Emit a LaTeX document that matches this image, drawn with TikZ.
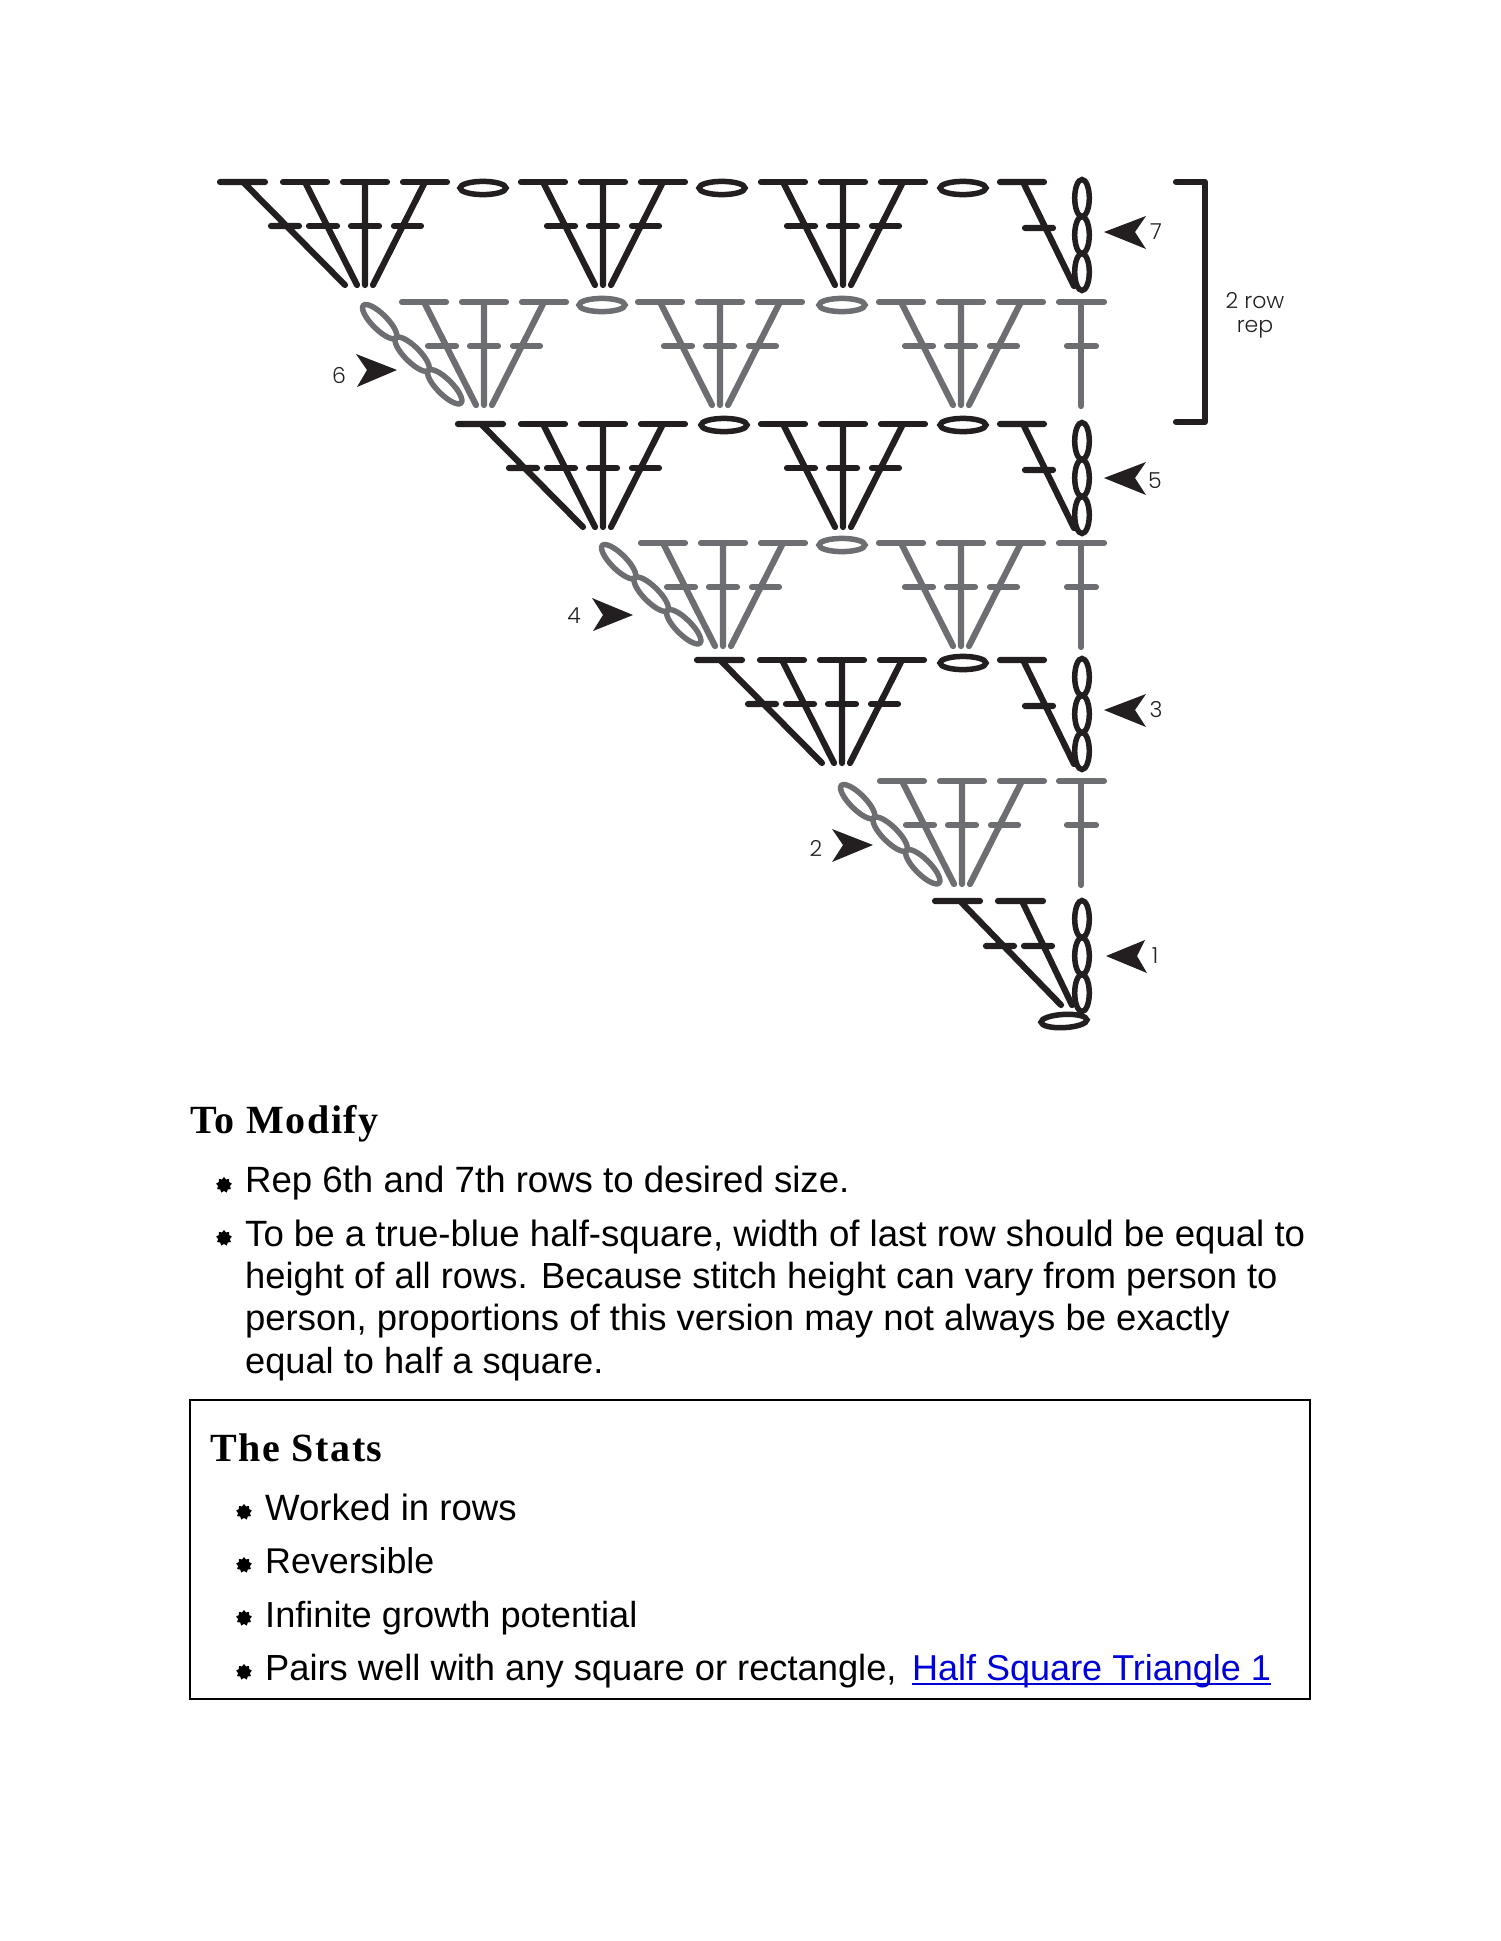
\documentclass[tikz,border=0pt]{standalone}
\usepackage{fontspec}
\usepackage{xcolor}
\usetikzlibrary{shapes.geometric}
\setmainfont{Liberation Sans}
\newfontfamily\headfont[LetterSpace=4]{Liberation Serif}
\newfontfamily\labfont{Poppins Light}
\definecolor{ink}{HTML}{231F20}
\definecolor{greyst}{HTML}{6D6E71}
\definecolor{linkblue}{HTML}{0000D8}
\newcommand{\fsz}[1]{\fontsize{#1}{42}\selectfont}
\tikzset{
  stitch/.style={line width=6.2pt,line cap=round,line join=round},
  ring/.style={line width=5.5pt,fill=none},
  bodytext/.style={inner sep=0pt,anchor=base west,font=\fontsize{36.6}{42}\selectfont,text=black},
  headtext/.style={inner sep=0pt,anchor=base west,font=\headfont\bfseries\fontsize{40}{46}\selectfont,text=black},
  labeltext/.style={inner sep=0pt,font=\labfont\fontsize{22}{24}\selectfont,text=ink},
  bulletmark/.style={star,star points=9,star point ratio=1.35,fill=black,minimum size=16pt,inner sep=0pt},
  arrowmark/.style={fill=ink,draw=none}
}
% three-leg cluster: centre x, top y, colour
\newcommand{\tripleleg}[3]{%
  \begin{scope}[shift={(#1,#2)}]
    \draw[stitch,#3] (-82,0)--(-38,0) (-22,0)--(22,0) (38,0)--(82,0);
    \draw[stitch,#3] (-56,44)--(-28,44) (-14,44)--(14,44) (29,44)--(56,44);
    \draw[stitch,#3] (-60,0)--(-8,103) (0,0)--(0,103) (60,0)--(8,103);
  \end{scope}}
% four-leg cluster
\newcommand{\quadleg}[3]{%
  \tripleleg{#1}{#2}{#3}%
  \begin{scope}[shift={(#1,#2)}]
    \draw[stitch,#3] (-145,0)--(-100,0) (-94,44)--(-66,44) (-122,0)--(-20,103);
  \end{scope}}
% single treble beside the chain
\newcommand{\singleleg}[1]{%
  \draw[stitch,ink] (1000,#1)--(1044,#1) (1025,#1+46)--(1053,#1+46) (1023,#1)--(1074,#1+104);}
% grey treble at right
\newcommand{\greyT}[1]{%
  \draw[stitch,greyst] (1059,#1)--(1104,#1) (1067,#1+44)--(1096,#1+44) (1081,#1)--(1081,#1+104);}
% vertical chain of three
\newcommand{\vchain}[1]{%
  \draw[ring,ink] (1082,#1+21) ellipse[x radius=7.3,y radius=18.5];
  \draw[ring,ink] (1082,#1+58) ellipse[x radius=7.3,y radius=18.5];
  \draw[ring,ink] (1082,#1+95) ellipse[x radius=7.3,y radius=18.5];}
% diagonal grey chain of three, from top-left start
\newcommand{\dchain}[2]{%
  \begin{scope}[shift={(#1,#2)},rotate=-45]
    \draw[ring,greyst] (25,0) ellipse[x radius=23,y radius=7.6];
    \draw[ring,greyst] (71,0) ellipse[x radius=23,y radius=7.6];
    \draw[ring,greyst] (117,0) ellipse[x radius=23,y radius=7.6];
  \end{scope}}
\newcommand{\hring}[3]{\draw[ring,#3] (#1,#2) ellipse[x radius=23,y radius=6.6];}
\begin{document}
\begin{tikzpicture}[x=1pt,y=-1pt]
\useasboundingbox (0,0) rectangle (1500,1941);
% Row 7
\quadleg{365}{182}{ink}\tripleleg{603}{182}{ink}\tripleleg{843}{182}{ink}
\hring{483}{188}{ink}\hring{722}{188}{ink}\hring{963}{188}{ink}
\singleleg{182}\vchain{177}
% Row 6
\tripleleg{484}{302}{greyst}\tripleleg{720}{302}{greyst}\tripleleg{961}{302}{greyst}
\hring{602}{305}{greyst}\hring{842}{305}{greyst}
\greyT{302}\dchain{362}{304}
% Row 5
\quadleg{603}{424}{ink}\tripleleg{843}{424}{ink}
\hring{724}{425}{ink}\hring{963}{425}{ink}
\singleleg{424}\vchain{420}
% Row 4
\tripleleg{723}{543}{greyst}\tripleleg{961}{543}{greyst}
\hring{842}{545}{greyst}
\greyT{543}\dchain{601}{544}
% Row 3
\quadleg{842}{660}{ink}
\hring{963}{663}{ink}
\singleleg{660}\vchain{656}
% Row 2
\tripleleg{962}{781}{greyst}
\greyT{781}\dchain{840}{784}
% Row 1
\draw[stitch,ink] (935,901)--(980,901) (998,901)--(1043,901)
  (986,946)--(1014,946) (1024,946)--(1052,946)
  (960,901)--(1061,1005) (1022,901)--(1072,1005);
\vchain{898}
\draw[ring,ink,rotate around={3:(1064,1021)}] (1064,1021) ellipse[x radius=23,y radius=6.6];
% Arrows
\fill[arrowmark] (356,354)--(397,370)--(357,387)--(367,370)--cycle;
\fill[arrowmark] (592,598)--(633,615)--(593,631)--(603,615)--cycle;
\fill[arrowmark] (832,829)--(873,845)--(832,862)--(843,845)--cycle;
\fill[arrowmark] (1146,216)--(1104,232)--(1146,249)--(1135,232)--cycle;
\fill[arrowmark] (1146,462)--(1104,478)--(1146,495)--(1135,478)--cycle;
\fill[arrowmark] (1146,694)--(1104,710)--(1146,727)--(1135,710)--cycle;
\fill[arrowmark] (1145,940)--(1106,956)--(1147,973)--(1137,956)--cycle;
% Row numbers
\node[labeltext] (n7) at (1156,232) {7};
\node[labeltext] (n6) at (339,375) {6};
\node[labeltext] (n5) at (1155,481) {5};
\node[labeltext] (n4) at (574,616) {4};
\node[labeltext] (n3) at (1156,710) {3};
\node[labeltext] (n2) at (816,848) {2};
\node[labeltext] (n1) at (1155,956) {1};
% Bracket
\draw[stitch,ink] (1176,182)--(1205,182)--(1205,422)--(1176,422);
\node[labeltext,anchor=base] (rep2) at (1255,308) {2 row};
\node[labeltext,anchor=base] (rep1) at (1255,332) {rep};
% Text
\node[headtext] (mod) at (190,1133) {To Modify};
\node[bulletmark] (b1) at (224,1185) {};
\node[bodytext] (t1) at (245,1192) {Rep 6th and 7th rows to desired size.};
\node[bulletmark] (b2) at (224,1238) {};
\node[bodytext] (t2) at (245,1246) {To be a true-blue half-square, width of last row should be equal to};
\node[bodytext] (t3) at (245,1288) {\fsz{36.3}height of all rows. Because stitch height can vary from person to};
\node[bodytext] (t4) at (245,1330) {\fsz{36.45}person, proportions of this version may not always be exactly};
\node[bodytext] (t5) at (245,1373) {\fsz{36.2}equal to half a square.};
\draw[line width=1.8pt,black] (190,1400) rectangle (1310,1699);
\node[headtext] (stats) at (210,1461) {The Stats};
\node[bulletmark] (b3) at (244,1512) {};
\node[bodytext] (s1) at (265,1520) {Worked in rows};
\node[bulletmark] (b4) at (244,1565) {};
\node[bodytext] (s2) at (265,1573) {\fsz{35.8}Reversible};
\node[bulletmark] (b5) at (244,1618) {};
\node[bodytext] (s3) at (265,1627) {\fsz{36.2}Infinite growth potential};
\node[bulletmark] (b6) at (244,1672) {};
\node[bodytext] (s4) at (265,1680) {\fsz{36.3}Pairs well with any square or rectangle,};
\node[bodytext,text=linkblue] (link) at (912,1680) {\fsz{36}Half Square Triangle 1};
\draw[line width=2pt,linkblue] ([yshift=-4pt]link.base west) -- ([yshift=-4pt]link.base east);
\end{tikzpicture}
\end{document}
